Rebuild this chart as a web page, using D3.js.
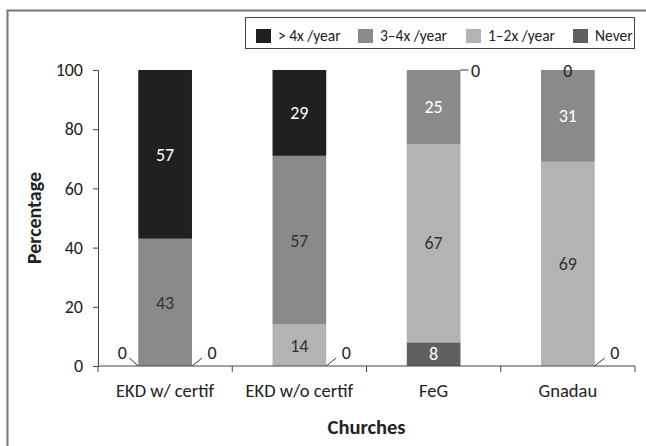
<!DOCTYPE html>
<html>
<head>
<meta charset="utf-8">
<script src="https://cdn.jsdelivr.net/npm/d3@7"></script>
<style>
  body { margin: 0; background: #fff; }
  svg { display: block; }
  svg text { font-family: Carlito, Lato, "Open Sans", sans-serif; }
</style>
</head>
<body>
<svg id="chart" width="646" height="446"></svg>
<script>
const categories = ['EKD w/ certif', 'EKD w/o certif', 'FeG', 'Gnadau']
const seriesNames = ['> 4x /year', '3\u20134x /year', '1\u20132x /year', 'Never']
const more4 = [57, 29, 0, 0]
const three4 = [43, 57, 25, 31]
const one2 = [0, 14, 67, 69]
const never = [0, 0, 8, 0]
const yTicks = [0, 20, 40, 60, 80, 100]

// stacking order bottom -> top
const stackKeys = ['Never', '1\u20132x /year', '3\u20134x /year', '> 4x /year']
const valuesBySeries = {
    '> 4x /year': more4,
    '3\u20134x /year': three4,
    '1\u20132x /year': one2,
    'Never': never
}
const colors = {
    '> 4x /year': '#202020',
    '3\u20134x /year': '#8a8a8a',
    '1\u20132x /year': '#b3b3b3',
    'Never': '#606060'
}
// where each zero label sits (key: series|category index)
const zeroPlace = {
    'Never|0': 'left', '1\u20132x /year|0': 'right',
    'Never|1': 'right',
    '> 4x /year|2': 'topRight',
    '> 4x /year|3': 'top', 'Never|3': 'right'
}
const lightLabel = (key, i) => key === '> 4x /year' || key === 'Never' || (key === '3\u20134x /year' && i >= 2)

const svg = d3.select('#chart')
const margin = {left: 98, right: 11, top: 70, bottom: 80}
const width = 646, height = 446

// outer frame
svg.append('rect').attr('x', 7.5).attr('y', 10.5).attr('width', 700).attr('height', 500)
    .attr('fill', 'none').attr('stroke', '#777').attr('stroke-width', 2)

const x = d3.scaleBand().domain(categories).range([margin.left, width - margin.right]).paddingInner(0.6).paddingOuter(0.3)
const y = d3.scaleLinear().domain([0, 100]).range([height - margin.bottom, margin.top])

const rows = categories.map((c, i) => {
    const r = {cat: c}
    stackKeys.forEach(k => r[k] = valuesBySeries[k][i])
    return r
})
const stacked = d3.stack().keys(stackKeys)(rows)

const g = svg.append('g')
stacked.forEach(layer => {
    g.append('g').selectAll('rect')
        .data(layer)
        .enter().append('rect')
        .attr('x', d => x(d.data.cat))
        .attr('width', x.bandwidth())
        .attr('y', d => y(d[1]))
        .attr('height', d => y(d[0]) - y(d[1]))
        .attr('fill', colors[layer.key])
})

// value labels
const labels = svg.append('g').style('font-size', '18px')
stacked.forEach(layer => {
    layer.forEach((d, i) => {
        const v = d[1] - d[0]
        const cx = x(d.data.cat) + x.bandwidth() / 2
        const x0 = x(d.data.cat), x1 = x0 + x.bandwidth()
        if (v > 0) {
            labels.append('text')
                .attr('x', cx).attr('y', (y(d[0]) + y(d[1])) / 2)
                .attr('dy', '0.35em').attr('text-anchor', 'middle')
                .attr('fill', lightLabel(layer.key, i) ? '#fff' : '#333')
                .text(v)
        } else {
            const place = zeroPlace[layer.key + '|' + i]
            const yy = y(d[0])
            let tx, ty, line
            if (place === 'left') { tx = x0 - 16; ty = yy - 13; line = [x0, yy, x0 - 9, yy - 8] }
            else if (place === 'right') { tx = x1 + 20; ty = yy - 13; line = [x1, yy, x1 + 10, yy - 8] }
            else if (place === 'topRight') { tx = x1 + 15; ty = yy + 1; line = [x1, yy, x1 + 8, yy] }
            else { tx = cx; ty = yy + 1 }
            if (line) labels.append('line')
                .attr('x1', line[0]).attr('y1', line[1]).attr('x2', line[2]).attr('y2', line[3])
                .attr('stroke', '#333').attr('stroke-width', 1)
            labels.append('text').attr('x', tx).attr('y', ty).attr('dy', '0.35em')
                .attr('text-anchor', 'middle').attr('fill', '#222').text('0')
        }
    })
})

// axes
const yAxis = svg.append('g').attr('transform', `translate(${margin.left},0)`)
    .call(d3.axisLeft(y).tickValues(yTicks).tickSize(5).tickPadding(10))
yAxis.attr('font-family', null)
yAxis.selectAll('text').style('font-size', '18px').attr('fill', '#222')
yAxis.selectAll('line, path').attr('stroke', '#444')

const xAxis = svg.append('g').attr('transform', `translate(0,${y(0)})`)
    .call(d3.axisBottom(x).tickSize(0).tickPadding(18))
xAxis.attr('font-family', null)
xAxis.select('.domain').attr('d', `M${margin.left},0H${width - margin.right}`).attr('stroke', '#444')
xAxis.selectAll('text').style('font-size', '18.5px').attr('fill', '#222')
const step = x.step()
const bounds = categories.map((c, i) => margin.left + i * step).concat([width - margin.right])
xAxis.selectAll('.bound').data(bounds).enter().append('line')
    .attr('x1', d => d).attr('x2', d => d).attr('y1', 0).attr('y2', 6).attr('stroke', '#444')

// axis titles
svg.append('text').attr('transform', `translate(34,${(y(0) + y(100)) / 2}) rotate(-90)`)
    .attr('text-anchor', 'middle').attr('dy', '0.35em')
    .style('font-size', '20px').style('font-weight', 'bold').attr('fill', '#222')
    .text('Percentage')
svg.append('text').attr('x', (margin.left + width - margin.right) / 2).attr('y', 427)
    .attr('text-anchor', 'middle').attr('dy', '0.35em')
    .style('font-size', '20.5px').style('font-weight', 'bold').attr('fill', '#222')
    .text('Churches')

// legend
const legend = svg.append('g')
legend.append('rect').attr('x', 245.5).attr('y', 17.5).attr('width', 389).attr('height', 31)
    .attr('fill', '#fff').attr('stroke', '#444')
const legendX = [256, 358, 466, 573]
seriesNames.forEach((s, i) => {
    const item = legend.append('g').attr('transform', `translate(${legendX[i]},29)`)
    item.append('rect').attr('width', 15).attr('height', 14).attr('fill', colors[s])
    item.append('text').attr('x', 22).attr('y', 7).attr('dy', '0.35em')
        .style('font-size', '15.5px').attr('fill', '#222').text(s)
})
</script>
</body>
</html>
